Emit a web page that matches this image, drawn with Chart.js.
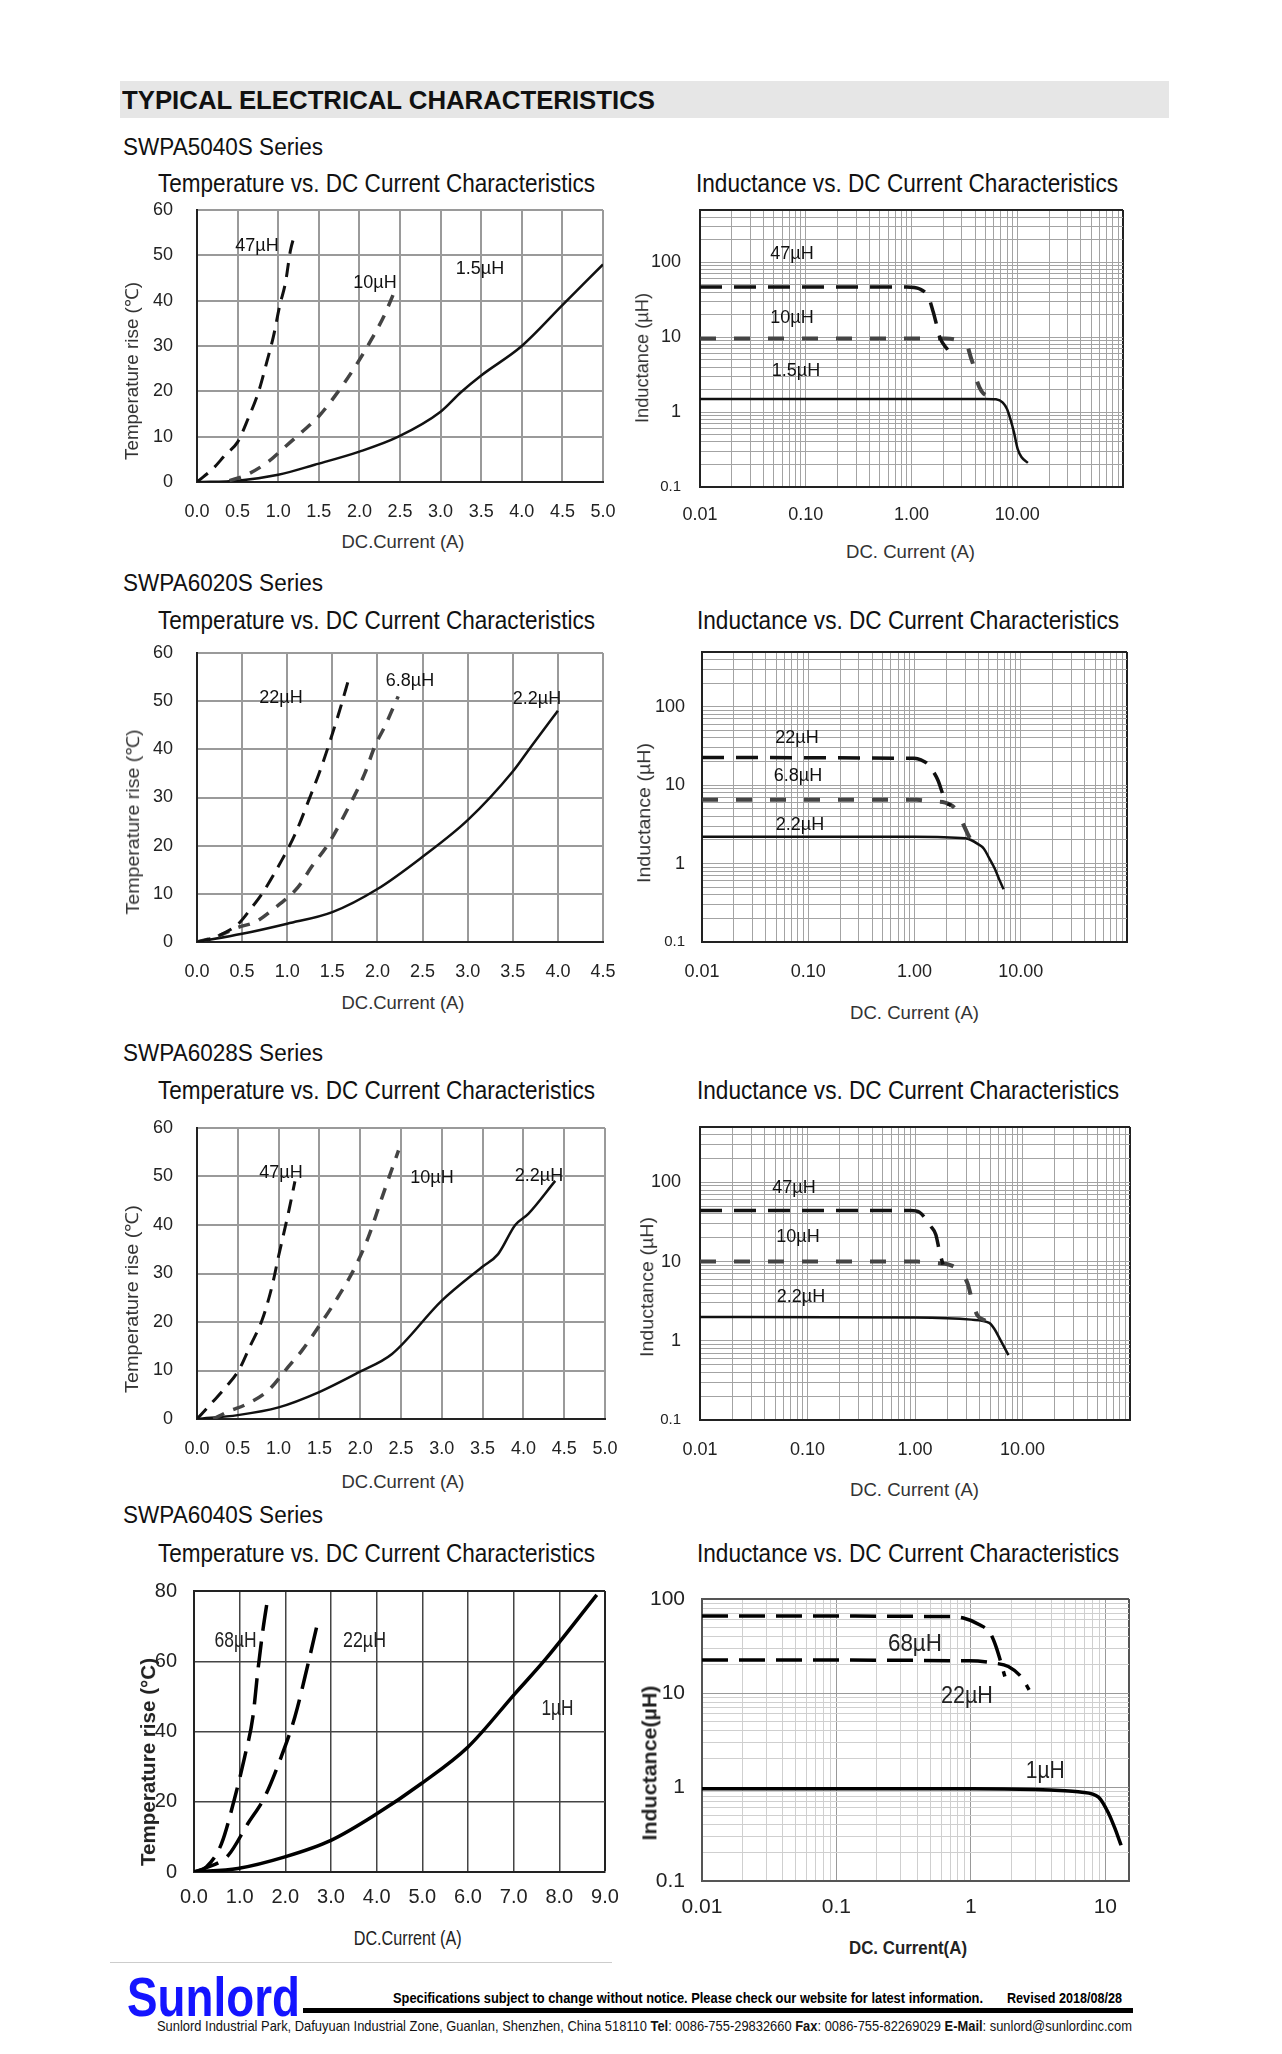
<!DOCTYPE html>
<html>
<head>
<meta charset="utf-8">
<script src="https://cdn.jsdelivr.net/npm/chart.js@4.4.1/dist/chart.umd.min.js"></script>
<style>
    html, body { margin: 0; padding: 0; background: #fff; }
    #page { position: relative; width: 1282px; height: 2054px; overflow: hidden; font-family: "Liberation Sans", Arial, sans-serif; color: #111; }
    .txt { position: absolute; white-space: nowrap; }
    .box { position: absolute; }
    canvas { position: absolute; }
</style>
</head>
<body>
<div id="page"></div>
<script>
// axis ticks
const tempTicks60 = [0, 10, 20, 30, 40, 50, 60];
const tempTicks80 = [0, 20, 40, 60, 80];
const currentTicks50 = [0, 0.5, 1, 1.5, 2, 2.5, 3, 3.5, 4, 4.5, 5];
const currentTicks45 = [0, 0.5, 1, 1.5, 2, 2.5, 3, 3.5, 4, 4.5];
const currentTicks90 = [0, 1, 2, 3, 4, 5, 6, 7, 8, 9];
const logCurrentLabels = ['0.01', '0.10', '1.00', '10.00'];
const logCurrentLabels6040 = ['0.01', '0.1', '1', '10'];
const logInductLabels = ['100', '10', '1', '0.1'];

// SWPA5040S  [current A, value]
const temp5040_47 = [[0, 0], [0.2, 3], [0.35, 6], [0.5, 8.8], [0.63, 14], [0.76, 20], [0.86, 26.5], [0.94, 32], [1.02, 39], [1.09, 44], [1.15, 51], [1.21, 55]];
const temp5040_10 = [[0.4, 0.3], [0.6, 1.5], [0.88, 4.5], [1.1, 8], [1.29, 11], [1.5, 14.5], [1.7, 19], [1.95, 25.5], [2.15, 31.5], [2.3, 36.5], [2.42, 41.5]];
const temp5040_1p5 = [[0, 0], [0.5, 0.3], [1.0, 1.6], [1.45, 3.8], [2.0, 6.7], [2.48, 10], [3.0, 15.5], [3.25, 19.8], [3.5, 23.5], [4.0, 30], [4.5, 39], [5.0, 48]];
const ind5040_47 = [[0.01, 47], [0.9, 47], [1.2, 44], [1.45, 34], [1.6, 22], [1.7, 16], [1.85, 10], [2.2, 6.8]];
const ind5040_10 = [[0.01, 9.6], [2.1, 9.6], [2.6, 9.3], [3.0, 8.6], [3.4, 7.4], [3.65, 5.3], [3.85, 4.2], [4.1, 2.8], [4.6, 1.9], [5.4, 1.6]];
const ind5040_1p5 = [[0.01, 1.5], [5.0, 1.5], [6.3, 1.48], [7.3, 1.34], [8.0, 1.1], [8.6, 0.81], [9.3, 0.54], [10.1, 0.32], [11, 0.25], [12.6, 0.21]];

// SWPA6020S
const temp6020_22 = [[0, 0], [0.2, 1], [0.46, 3.8], [0.6, 7], [0.72, 10], [0.94, 17], [1.09, 22.5], [1.24, 29.5], [1.38, 36.4], [1.49, 42.6], [1.58, 48], [1.68, 54.5]];
const temp6020_6p8 = [[0, 0], [0.2, 1], [0.45, 3], [0.65, 4.2], [0.83, 6.6], [1.12, 11.4], [1.27, 15.6], [1.46, 20.5], [1.68, 28], [1.86, 35], [1.97, 40.6], [2.08, 44.7], [2.23, 51]];
const temp6020_2p2 = [[0, 0], [0.5, 1.7], [1.0, 3.8], [1.5, 6.2], [2.0, 11], [2.5, 17.7], [3.0, 25.3], [3.5, 35.4], [3.7, 40.5], [4.0, 48]];
const ind6020_22 = [[0.01, 22.5], [1.0, 22], [1.15, 21], [1.33, 18.7], [1.5, 15], [1.67, 11.4], [1.8, 8.5], [1.94, 6.3], [2.2, 5.5]];
const ind6020_6p8 = [[0.01, 6.5], [1.05, 6.5], [1.5, 6.2], [1.94, 6.0], [2.46, 4.9], [2.9, 3.1], [3.33, 2.1], [3.9, 1.6]];
const ind6020_2p2 = [[0.01, 2.2], [1.0, 2.2], [3.0, 2.1], [3.4, 2.0], [3.9, 1.8], [4.5, 1.55], [5.0, 1.2], [5.7, 0.86], [6.3, 0.62], [6.9, 0.47]];

// SWPA6028S
const temp6028_47 = [[0, 0], [0.18, 3.3], [0.35, 6.5], [0.51, 10], [0.65, 15], [0.8, 20.5], [0.92, 27.4], [1.0, 33.6], [1.12, 42.5], [1.2, 49]];
const temp6028_10 = [[0.2, 0], [0.39, 1.6], [0.6, 3], [0.88, 6], [1.12, 10.8], [1.29, 14.2], [1.49, 19], [1.73, 25.2], [1.94, 31.4], [2.1, 37.5], [2.27, 45.8], [2.47, 55.4]];
const temp6028_2p2 = [[0, 0], [0.5, 0.8], [1.0, 2.4], [1.49, 5.5], [1.98, 9.6], [2.39, 13.4], [3.0, 24.4], [3.49, 31.3], [3.69, 34], [3.9, 40], [4.06, 42.3], [4.39, 49.1]];
const ind6028_47 = [[0.01, 44], [0.91, 44], [1.1, 42], [1.23, 36], [1.4, 28], [1.56, 22], [1.7, 13], [1.82, 9.2]];
const ind6028_10 = [[0.01, 10], [1.05, 10], [1.5, 9.6], [2.1, 9.1], [2.6, 7.6], [3.1, 5.2], [3.4, 3.2], [3.8, 2.1], [4.5, 1.8]];
const ind6028_2p2 = [[0.01, 2.0], [1.0, 1.97], [3.34, 1.85], [4.9, 1.68], [5.5, 1.4], [6.1, 1.08], [6.8, 0.82], [7.4, 0.66]];

// SWPA6040S
const temp6040_68 = [[0, 0], [0.27, 1.4], [0.6, 8], [0.89, 21], [1.11, 32.8], [1.29, 44.2], [1.4, 57.5], [1.51, 69], [1.62, 78.4]];
const temp6040_22 = [[0, 0], [0.23, 1], [0.75, 4.75], [1.18, 13.8], [1.55, 21.4], [1.91, 32.8], [2.21, 44.2], [2.5, 59.4], [2.72, 71.7]];
const temp6040_1 = [[0, 0], [0.96, 1], [1.99, 4.3], [3.0, 9], [3.96, 16.2], [4.98, 25.2], [6.0, 35.6], [7.03, 50.8], [7.68, 60.3], [8.82, 78.9]];
const ind6040_68 = [[0.01, 66], [0.67, 65], [0.88, 62.7], [1.16, 53.2], [1.39, 43.4], [1.54, 31], [1.79, 15]];
const ind6040_22 = [[0.01, 22.5], [0.97, 22], [1.49, 20.8], [1.9, 19.1], [2.41, 14.4], [2.71, 10.8]];
const ind6040_1 = [[0.01, 0.96], [1, 0.96], [3, 0.94], [5, 0.91], [6.5, 0.885], [8.9, 0.78], [10.6, 0.52], [11.9, 0.35], [13.1, 0.24]];

const page = document.getElementById('page');
const SANS = '"Liberation Sans", Arial, sans-serif';
const NARROW = '"Liberation Sans Narrow", "Liberation Sans", Arial, sans-serif';

// room kept round the plot area inside each canvas
const PAD_LEFT = 100;
const PAD_TOP = 60;
const PAD_RIGHT = 60;
const PAD_BOTTOM = 50;

const lineStyles = {
    tempDash: { borderColor: '#111', borderWidth: 3, borderDash: [14, 9] },
    tempDot: { borderColor: '#444', borderWidth: 3.5, borderDash: [12, 10] },
    tempSolid: { borderColor: '#111', borderWidth: 2.5 },
    indDash: { borderColor: '#111', borderWidth: 3.5, borderDash: [22, 12] },
    indDot: { borderColor: '#444', borderWidth: 4, borderDash: [16, 18] },
    indSolid: { borderColor: '#111', borderWidth: 2.5 },
    bigDash: { borderColor: '#000', borderWidth: 3.5, borderDash: [26, 11] },
    bigSolid: { borderColor: '#000', borderWidth: 3.5 }
};

const themes = {
    temp: { grid: '#9a9a9a', gridWidth: 2, frame: '#9a9a9a', frameWidth: 2, axis: '#222', text: '#222', family: SANS, size: 18 },
    log: { grid: '#a3a3a3', gridWidth: 1, frame: '#222', frameWidth: 2, axis: '#222', text: '#222', family: SANS, size: 18, small: 15 },
    temp4: { grid: '#444', gridWidth: 1.5, frame: '#222', frameWidth: 2, axis: '#222', text: '#222', family: NARROW, size: 20 },
    log4: { grid: '#cfcfcf', gridWidth: 1, major: '#999', frame: '#555', frameWidth: 2, axis: '#555', text: '#222', family: SANS, size: 21 }
};

function near(a, b) {
    return Math.abs(a - b) <= Math.abs(b) * 1e-6 + 1e-9;
}

function isDecade(v) {
    const e = Math.log10(v);
    return Math.abs(e - Math.round(e)) < 1e-9;
}

// gridline positions for a log axis: 1..9 x 10^n
function logGrid(min, max) {
    const out = [];
    for (let e = Math.floor(Math.log10(min)); e <= Math.ceil(Math.log10(max)); e++) {
        for (let s = 1; s < 10; s++) {
            const v = parseFloat((s * Math.pow(10, e)).toPrecision(6));
            if (v >= min - 1e-12 && v < max - 1e-12) out.push(v);
        }
    }
    out.push(max);
    return out;
}

function logLabel(labels) {
    return function(value) {
        const hit = labels.find(l => near(parseFloat(l), value));
        return hit || '';
    };
}

function buildScale(ax, theme, isX) {
    return {
        type: ax.type,
        min: ax.min,
        max: ax.max,
        afterBuildTicks: (scale) => { scale.ticks = ax.ticks.map(v => ({ value: v })); },
        afterFit: (scale) => {
            if (isX) {
                scale.height = PAD_BOTTOM;
            } else {
                scale.width = PAD_LEFT;
            }
        },
        grid: {
            drawTicks: false,
            color: (ctx) => {
                const v = ctx.tick ? ctx.tick.value : NaN;
                if (near(v, ax.max)) return theme.frame;
                if (theme.major && ax.type === 'logarithmic' && isDecade(v)) return theme.major;
                return theme.grid;
            },
            lineWidth: (ctx) => (ctx.tick && near(ctx.tick.value, ax.max)) ? theme.frameWidth : theme.gridWidth
        },
        border: { display: true, color: theme.axis, width: 2 },
        ticks: {
            autoSkip: false,
            maxRotation: 0,
            minRotation: 0,
            padding: ax.pad,
            color: theme.text,
            font: (ctx) => {
                const small = theme.small && !isX && ctx.tick && near(ctx.tick.value, 0.1);
                return { family: theme.family, size: small ? theme.small : theme.size };
            },
            callback: ax.label
        }
    };
}

function makeChart(rect, cfg) {
    const canvas = document.createElement('canvas');
    const w = rect.r - rect.l + PAD_LEFT + PAD_RIGHT;
    const h = rect.b - rect.t + PAD_TOP + PAD_BOTTOM;
    canvas.width = w;
    canvas.height = h;
    canvas.style.left = (rect.l - PAD_LEFT) + 'px';
    canvas.style.top = (rect.t - PAD_TOP) + 'px';
    canvas.style.width = w + 'px';
    canvas.style.height = h + 'px';
    page.appendChild(canvas);

    const theme = themes[cfg.theme];
    const datasets = cfg.series.map(function(s) {
        return Object.assign({
            data: s[0].map(p => ({ x: p[0], y: p[1] })),
            pointRadius: 0,
            fill: false,
            cubicInterpolationMode: 'monotone'
        }, lineStyles[s[1]]);
    });

    return new Chart(canvas, {
        type: 'line',
        data: { datasets: datasets },
        options: {
            responsive: false,
            animation: false,
            devicePixelRatio: 1,
            layout: { padding: { left: 0, top: PAD_TOP, right: PAD_RIGHT, bottom: 0 } },
            plugins: { legend: { display: false }, tooltip: { enabled: false }, title: { display: false } },
            scales: {
                x: buildScale(cfg.x, theme, true),
                y: buildScale(cfg.y, theme, false)
            }
        }
    });
}

function addText(str, x, y, size, opt) {
    opt = opt || {};
    const el = document.createElement('div');
    el.className = 'txt';
    if (opt.html) {
        el.innerHTML = str;
    } else {
        el.textContent = str;
    }
    el.style.fontSize = size + 'px';
    el.style.lineHeight = size + 'px';
    if (opt.bold) el.style.fontWeight = 'bold';
    el.style.color = opt.color || '#111';
    if (opt.family) el.style.fontFamily = opt.family;
    page.appendChild(el);

    const natural = el.getBoundingClientRect().width;
    const sx = opt.w ? opt.w / natural : 1;
    el.style.top = (y - size / 2) + 'px';
    if (opt.rotate) {
        el.style.left = (x - natural / 2) + 'px';
        el.style.transformOrigin = 'center center';
        el.style.transform = 'rotate(-90deg) scaleX(' + sx + ')';
    } else if (opt.center) {
        el.style.left = (x - natural / 2) + 'px';
        el.style.transformOrigin = 'center center';
        el.style.transform = 'scaleX(' + sx + ')';
    } else {
        el.style.left = x + 'px';
        el.style.transformOrigin = 'left center';
        el.style.transform = 'scaleX(' + sx + ')';
    }
    return el;
}

function addBox(x, y, w, h, color) {
    const el = document.createElement('div');
    el.className = 'box';
    el.style.left = x + 'px';
    el.style.top = y + 'px';
    el.style.width = w + 'px';
    el.style.height = h + 'px';
    el.style.background = color;
    page.appendChild(el);
}

const fixed1 = v => v.toFixed(1);
const plain = v => String(v);

function tempAxis(max, ticks) {
    return { type: 'linear', min: 0, max: max, ticks: ticks, label: plain, pad: 24 };
}

function currentAxis(max, ticks) {
    return { type: 'linear', min: 0, max: max, ticks: ticks, label: fixed1, pad: 19 };
}

function logAxis(min, max, labels, pad) {
    return { type: 'logarithmic', min: min, max: max, ticks: logGrid(min, max), label: logLabel(labels), pad: pad };
}

// header
addBox(120, 81, 1049, 37, '#e6e6e6');
addText('TYPICAL ELECTRICAL CHARACTERISTICS', 122, 100, 26, { bold: true, w: 533 });

// ---- SWPA5040S
addText('SWPA5040S Series', 123, 147, 23, { w: 200 });
addText('Temperature vs. DC Current Characteristics', 158, 183, 26, { w: 437 });
addText('Inductance vs. DC Current Characteristics', 696, 183, 26, { w: 422 });
makeChart({ l: 197, t: 210, r: 603, b: 482 }, {
    theme: 'temp',
    x: currentAxis(5, currentTicks50),
    y: tempAxis(60, tempTicks60),
    series: [[temp5040_47, 'tempDash'], [temp5040_10, 'tempDot'], [temp5040_1p5, 'tempSolid']]
});
makeChart({ l: 700, t: 210, r: 1123, b: 487 }, {
    theme: 'log',
    x: logAxis(0.01, 100, logCurrentLabels, 17),
    y: logAxis(0.1, 500, logInductLabels, 19),
    series: [[ind5040_47, 'indDash'], [ind5040_10, 'indDot'], [ind5040_1p5, 'indSolid']]
});
addText('DC.Current (A)', 403, 542, 18, { center: true, w: 123, color: '#333' });
addText('Temperature rise (℃)', 132, 371, 18, { rotate: true, w: 178, color: '#333' });
addText('DC. Current (A)', 911, 552, 18, { center: true, w: 129, color: '#333' });
addText('Inductance (µH)', 642, 358, 18, { rotate: true, w: 130, color: '#333' });
addText('47µH', 257, 245, 18, { center: true });
addText('10µH', 375, 282, 18, { center: true });
addText('1.5µH', 480, 268, 18, { center: true });
addText('47µH', 792, 253, 18, { center: true });
addText('10µH', 792, 317, 18, { center: true });
addText('1.5µH', 796, 370, 18, { center: true });

// ---- SWPA6020S
addText('SWPA6020S Series', 123, 583, 23, { w: 200 });
addText('Temperature vs. DC Current Characteristics', 158, 620, 26, { w: 437 });
addText('Inductance vs. DC Current Characteristics', 697, 620, 26, { w: 422 });
makeChart({ l: 197, t: 653, r: 603, b: 942 }, {
    theme: 'temp',
    x: currentAxis(4.5, currentTicks45),
    y: tempAxis(60, tempTicks60),
    series: [[temp6020_22, 'tempDash'], [temp6020_6p8, 'tempDot'], [temp6020_2p2, 'tempSolid']]
});
makeChart({ l: 702, t: 652, r: 1127, b: 942 }, {
    theme: 'log',
    x: logAxis(0.01, 100, logCurrentLabels, 19),
    y: logAxis(0.1, 500, logInductLabels, 17),
    series: [[ind6020_22, 'indDash'], [ind6020_6p8, 'indDot'], [ind6020_2p2, 'indSolid']]
});
addText('DC.Current (A)', 403, 1003, 18, { center: true, w: 123, color: '#333' });
addText('Temperature rise (℃)', 133, 822, 18, { rotate: true, w: 185, color: '#333' });
addText('DC. Current (A)', 915, 1013, 18, { center: true, w: 129, color: '#333' });
addText('Inductance (µH)', 644, 813, 18, { rotate: true, w: 140, color: '#333' });
addText('22µH', 281, 697, 18, { center: true });
addText('6.8µH', 410, 680, 18, { center: true });
addText('2.2µH', 537, 698, 18, { center: true });
addText('22µH', 797, 737, 18, { center: true });
addText('6.8µH', 798, 775, 18, { center: true });
addText('2.2µH', 800, 824, 18, { center: true });

// ---- SWPA6028S
addText('SWPA6028S Series', 123, 1053, 23, { w: 200 });
addText('Temperature vs. DC Current Characteristics', 158, 1090, 26, { w: 437 });
addText('Inductance vs. DC Current Characteristics', 697, 1090, 26, { w: 422 });
makeChart({ l: 197, t: 1128, r: 605, b: 1419 }, {
    theme: 'temp',
    x: currentAxis(5, currentTicks50),
    y: tempAxis(60, tempTicks60),
    series: [[temp6028_47, 'tempDash'], [temp6028_10, 'tempDot'], [temp6028_2p2, 'tempSolid']]
});
makeChart({ l: 700, t: 1127, r: 1130, b: 1420 }, {
    theme: 'log',
    x: logAxis(0.01, 100, logCurrentLabels, 19),
    y: logAxis(0.1, 500, logInductLabels, 19),
    series: [[ind6028_47, 'indDash'], [ind6028_10, 'indDot'], [ind6028_2p2, 'indSolid']]
});
addText('DC.Current (A)', 403, 1482, 18, { center: true, w: 123, color: '#333' });
addText('Temperature rise (℃)', 132, 1299, 18, { rotate: true, w: 188, color: '#333' });
addText('DC. Current (A)', 915, 1490, 18, { center: true, w: 129, color: '#333' });
addText('Inductance (µH)', 647, 1287, 18, { rotate: true, w: 140, color: '#333' });
addText('47µH', 281, 1172, 18, { center: true });
addText('10µH', 432, 1177, 18, { center: true });
addText('2.2µH', 539, 1175, 18, { center: true });
addText('47µH', 794, 1187, 18, { center: true });
addText('10µH', 798, 1236, 18, { center: true });
addText('2.2µH', 801, 1296, 18, { center: true });

// ---- SWPA6040S
addText('SWPA6040S Series', 123, 1515, 23, { w: 200 });
addText('Temperature vs. DC Current Characteristics', 158, 1553, 26, { w: 437 });
addText('Inductance vs. DC Current Characteristics', 697, 1553, 26, { w: 422 });
makeChart({ l: 194, t: 1591, r: 605, b: 1872 }, {
    theme: 'temp4',
    x: { type: 'linear', min: 0, max: 9, ticks: currentTicks90, label: fixed1, pad: 13 },
    y: { type: 'linear', min: 0, max: 80, ticks: tempTicks80, label: plain, pad: 17 },
    series: [[temp6040_68, 'bigDash'], [temp6040_22, 'bigDash'], [temp6040_1, 'bigSolid']]
});
makeChart({ l: 702, t: 1599, r: 1129, b: 1881 }, {
    theme: 'log4',
    x: logAxis(0.01, 15, logCurrentLabels6040, 14),
    y: logAxis(0.1, 100, logInductLabels, 17),
    series: [[ind6040_68, 'bigDash'], [ind6040_22, 'bigDash'], [ind6040_1, 'bigSolid']]
});
addText('DC.Current (A)', 408, 1938, 20, { center: true, w: 108, color: '#222' });
addText('Temperature rise (°C)', 148, 1762, 20, { rotate: true, w: 208, bold: true, color: '#222' });
addText('DC. Current(A)', 908, 1948, 18, { center: true, w: 118, bold: true, color: '#222' });
addText('Inductance(µH)', 649, 1763, 20, { rotate: true, w: 155, bold: true, color: '#222' });
addText('68µH', 236, 1640, 22, { center: true, w: 42, color: '#222' });
addText('22µH', 365, 1640, 22, { center: true, w: 43, color: '#222' });
addText('1µH', 557, 1708, 22, { center: true, w: 32, color: '#222' });
addText('68µH', 915, 1643, 24, { center: true, w: 54, color: '#222' });
addText('22µH', 967, 1695, 24, { center: true, w: 52, color: '#222' });
addText('1µH', 1045, 1770, 24, { center: true, w: 39, color: '#222' });

// footer
addBox(110, 1962, 502, 1, '#cccccc');
addText('Sunlord', 127, 1997, 56, { bold: true, w: 173, color: '#1414ff' });
addBox(303, 2008, 830, 5, '#000');
addText('Specifications subject to change without notice. Please check our website for latest information.', 393, 1998, 14, { bold: true, w: 590, color: '#000' });
addText('Revised 2018/08/28', 1007, 1998, 14, { bold: true, w: 115, color: '#000' });
addText('Sunlord Industrial Park, Dafuyuan Industrial Zone, Guanlan, Shenzhen, China 518110 <b>Tel</b>: 0086-755-29832660 <b>Fax</b>: 0086-755-82269029 <b>E-Mail</b>: sunlord@sunlordinc.com',
    157, 2025, 15, { html: true, w: 975, color: '#111' });
</script>
</body>
</html>
